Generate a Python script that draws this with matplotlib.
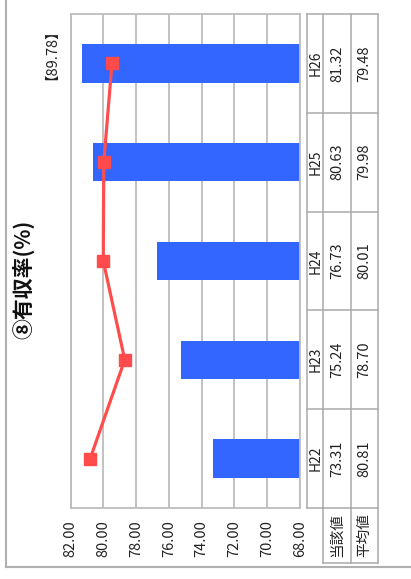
import matplotlib
matplotlib.use('Agg')
import matplotlib.pyplot as plt
from matplotlib.transforms import blended_transform_factory

# ---- data ----
categories = ['H22', 'H23', 'H24', 'H25', 'H26']
current_values = [73.31, 75.24, 76.73, 80.63, 81.32]   # 当該値 (bars)
average_values = [80.81, 78.70, 80.01, 79.98, 79.48]   # 平均値 (line)
row_labels = ['当該値', '平均値']
tick_values = [82, 80, 78, 76, 74, 72, 70, 68]
title_text = '⑧有収率(%)'
note_text = '【89.78】'

FONT = ['Noto Sans CJK JP', 'DejaVu Sans']
plt.rcParams['font.family'] = FONT

W, H = 411, 579
fig = plt.figure(figsize=(W / 100, H / 100), dpi=100)


def fx(px):
    return px / W


def fy(py):
    return 1 - py / H


# plot area (pixel bounds)
L, R, T, B = 70.7, 300.0, 14.0, 508.0
ax = fig.add_axes([fx(L), fy(B), fx(R) - fx(L), fy(T) - fy(B)])
ypos = list(range(len(categories)))
base = min(tick_values)
ax.barh(ypos, [v - base for v in current_values], left=base, height=0.39,
        color='#3366FF', zorder=2)
ax.plot(average_values, ypos, color='#FF4D4D', lw=2.3, marker='s', ms=8,
        mfc='#FF4B4B', mec='#FF4B4B', zorder=3)
ax.set_xlim(max(tick_values), min(tick_values))
ax.set_ylim(-0.5, len(categories) - 0.5)
ax.set_xticks(tick_values)
ax.set_xticklabels([f'{t:.2f}' for t in tick_values], rotation=90,
                   fontsize=10.5, color='#222222')
ax.tick_params(axis='x', length=0, pad=8.5)
ax.set_yticks([])
ax.grid(axis='x', color='#BDBDBD', lw=1.3, zorder=1)
ax.set_axisbelow(True)
for s in ax.spines.values():
    s.set_color('#BDBDBD')
    s.set_linewidth(1.3)

# overlay in pixel coordinates
ov = fig.add_axes([0, 0, 1, 1], zorder=5)
ov.set_xlim(0, W)
ov.set_ylim(H, 0)
ov.axis('off')
ov.patch.set_alpha(0)
tr = blended_transform_factory(ov.transData, ax.transData)

grid_c = '#AAAAAA'
# data table
cx = [307.3, 323.3, 350.7, 377.7]
n = len(categories)
for x in cx:
    ov.plot([x, x], [T, B], color=grid_c, lw=1.1)
for x in cx[1:]:
    ov.plot([x, x], [B, 563], color=grid_c, lw=1.1)
for k in range(n + 1):
    ov.plot([cx[0], cx[-1]], [k - 0.5, k - 0.5], color=grid_c, lw=1.1,
            transform=tr)
ov.plot([cx[1], cx[-1]], [563, 563], color=grid_c, lw=1.1)

col_centers = [(cx[i] + cx[i + 1]) / 2 for i in range(3)]
for i, cat in enumerate(categories):
    ov.text(col_centers[0] + 0.5, i, cat, rotation=90, ha='center',
            va='center', fontsize=10, color='#222222', transform=tr)
    ov.text(col_centers[1], i, f'{current_values[i]:.2f}', rotation=90,
            ha='center', va='center', fontsize=10.5, color='#222222',
            transform=tr)
    ov.text(col_centers[2], i, f'{average_values[i]:.2f}', rotation=90,
            ha='center', va='center', fontsize=10.5, color='#222222',
            transform=tr)
for j, lab in enumerate(row_labels):
    ov.text(col_centers[j + 1], (B + 563) / 2, lab, rotation=90,
            ha='center', va='center', fontsize=10.5, color='#222222')

# title and note
ov.text(23, 279, title_text, rotation=90, ha='center', va='center',
        fontsize=15, fontweight='bold', color='#111111')
ov.text(44, 47, note_text, rotation=90, ha='center', va='center',
        fontsize=10.5, color='#222222')

# outer frame
ov.plot([6, 6], [0, 567], color='#B0B0B0', lw=1.5)
ov.plot([6, W], [567, 567], color='#B0B0B0', lw=1.5)

fig.savefig('out.png', dpi=100)
